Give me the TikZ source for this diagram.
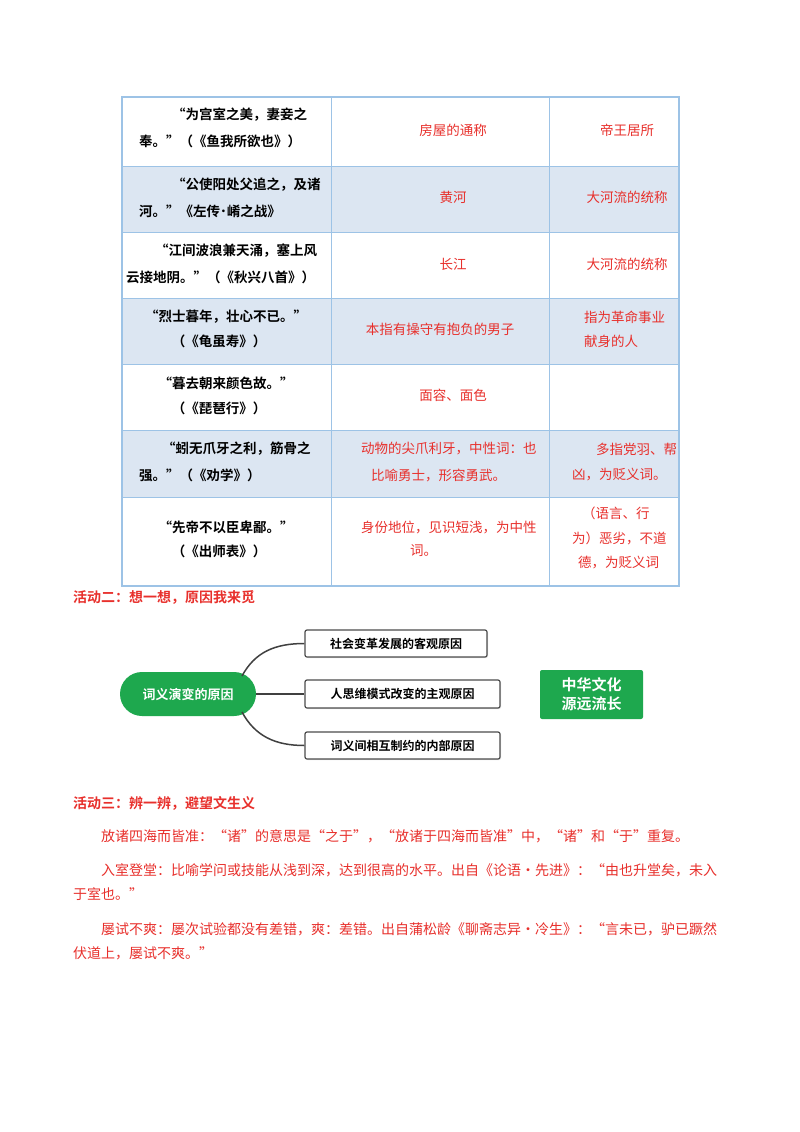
\documentclass[tikz,border=0pt]{standalone}
\usepackage{fontspec}
\setmainfont{Noto Sans CJK SC}[BoldFont=* Bold]
\usetikzlibrary{shadows}
\definecolor{tb}{HTML}{9DC3E6}
\definecolor{sh}{HTML}{DCE6F2}
\definecolor{rd}{HTML}{E8302C}
\definecolor{gr}{HTML}{1EA84E}
\tikzset{
 q/.style={anchor=west,inner sep=0pt,font=\fontsize{13.5}{16}\selectfont\bfseries},
 qc/.style={inner sep=0pt,font=\fontsize{13.5}{16}\selectfont\bfseries},
 r/.style={inner sep=0pt,text=rd,font=\fontsize{13.5}{16}\selectfont},
 rw/.style={r,anchor=west},
 hd/.style={anchor=west,inner sep=0pt,text=rd,font=\fontsize{14}{16}\selectfont\bfseries},
 p/.style={anchor=west,inner sep=0pt,text=rd,font=\fontsize{14}{16}\selectfont},
 bx/.style={draw=black!70,line width=1.2pt,rounded corners=2pt,fill=white,drop shadow={opacity=0.25,shadow xshift=1pt,shadow yshift=-1pt},font=\fontsize{12}{14}\selectfont\bfseries,inner sep=0pt},
 con/.style={draw=black!75,line width=1.5pt}
}
\begin{document}
\begin{tikzpicture}[x=1pt,y=-1pt]
\useasboundingbox (0,0) rectangle (800,1132);
\fill[white] (0,0) rectangle (800,1132);
% table shading
\fill[sh] (122,166) rectangle (679,232);
\fill[sh] (122,298) rectangle (679,364);
\fill[sh] (122,430) rectangle (679,497);
\draw[tb,line width=1.2pt] (122,97) rectangle (679,586);
\foreach \yy in {166,232,298,364,430,497} \draw[tb,line width=1pt] (122,\yy) -- (679,\yy);
\draw[tb,line width=1pt] (331,97) -- (331,586) (549,97) -- (549,586);
% column 1
\node[q] (a1) at (172,115) {“为宫室之美，妻妾之};
\node[q] (a2) at (139,141) {奉。”（《鱼我所欲也》）};
\node[q] (b1) at (172,185) {“公使阳处父追之，及诸};
\node[q] (b2) at (139,211) {河。”《左传˙崤之战》};
\node[q] (c1) at (155,251) {“江间波浪兼天涌，塞上风};
\node[q] (c2) at (126,277) {云接地阴。”（《秋兴八首》）};
\node[qc] (d1) at (226,317) {“烈士暮年，壮心不已。”};
\node[qc] (d2) at (219,341) {（《龟虽寿》）};
\node[qc] (e1) at (226,383) {“暮去朝来颜色故。”};
\node[qc] (e2) at (219,408) {（《琵琶行》）};
\node[q] (f1) at (162,449) {“蚓无爪牙之利，筋骨之};
\node[q] (f2) at (139,475) {强。”（《劝学》）};
\node[qc] (g1) at (226,527) {“先帝不以臣卑鄙。”};
\node[qc] (g2) at (219,551) {（《出师表》）};
% column 2
\node[r] (a3) at (453,130) {房屋的通称};
\node[r] (b3) at (453,197) {黄河};
\node[r] (c3) at (453,264) {长江};
\node[r] (d3) at (440,329) {本指有操守有抱负的男子};
\node[r] (e3) at (453,395) {面容、面色};
\node[rw] (f3) at (361,449) {动物的尖爪利牙，中性词：也};
\node[rw] (f4) at (371,475) {比喻勇士，形容勇武。};
\node[rw] (g3) at (361,527) {身份地位，见识短浅，为中性};
\node[rw] (g4) at (410,551) {词。};
% column 3
\node[r] (a5) at (627,130) {帝王居所};
\node[r] (b5) at (627,197) {大河流的统称};
\node[r] (c5) at (627,264) {大河流的统称};
\node[rw] (d5) at (584,317) {指为革命事业};
\node[rw] (d6) at (584,341) {献身的人};
\node[rw] (f5) at (596,449) {多指党羽、帮};
\node[rw] (f6) at (572,475) {凶，为贬义词。};
\node[rw] (g5) at (582,513) {（语言、行};
\node[rw] (g6) at (572,538) {为）恶劣，不道};
\node[rw] (g7) at (578,563) {德，为贬义词};
% activity 2
\node[hd] (h2) at (73,597) {活动二：想一想，原因我来觅};
\node[bx,minimum width=182pt,minimum height=27pt] (m1) at (396,643.5) {社会变革发展的客观原因};
\node[bx,minimum width=195pt,minimum height=28pt] (m2) at (402.5,694) {人思维模式改变的主观原因};
\node[bx,minimum width=195pt,minimum height=27pt] (m3) at (402.5,745.5) {词义间相互制约的内部原因};
\node[fill=gr,rounded corners=22pt,minimum width=136pt,minimum height=44pt,text=white,font=\fontsize{13}{15}\selectfont\bfseries,inner sep=0pt] (c) at (188,694) {词义演变的原因};
\node[fill=gr,rounded corners=2pt,minimum width=103pt,minimum height=49pt,text=white,font=\fontsize{15}{19}\selectfont\bfseries,align=center,inner sep=0pt] (g) at (591.5,694.5) {中华文化\\源远流长};
\coordinate (cu) at (242,676);
\coordinate (cd) at (242,712);
\draw[con] (cu) .. controls (255,652) and (275,643.5) .. (m1.west);
\draw[con] (c.east) -- (m2.west);
\draw[con] (cd) .. controls (255,736) and (275,745.5) .. (m3.west);
% activity 3
\node[hd] (h3) at (73,803) {活动三：辨一辨，避望文生义};
\node[p] (p1) at (101,836) {放诸四海而皆准：“诸”的意思是“之于”，“放诸于四海而皆准”中，“诸”和“于”重复。};
\node[p] (p2) at (101,870) {入室登堂：比喻学问或技能从浅到深，达到很高的水平。出自《论语·先进》：“由也升堂矣，未入};
\node[p] (p3) at (73,894) {于室也。”};
\node[p] (p4) at (101,929) {屡试不爽：屡次试验都没有差错，爽：差错。出自蒲松龄《聊斋志异·冷生》：“言未已，驴已蹶然};
\node[p] (p5) at (73,953) {伏道上，屡试不爽。”};
\end{tikzpicture}
\end{document}
